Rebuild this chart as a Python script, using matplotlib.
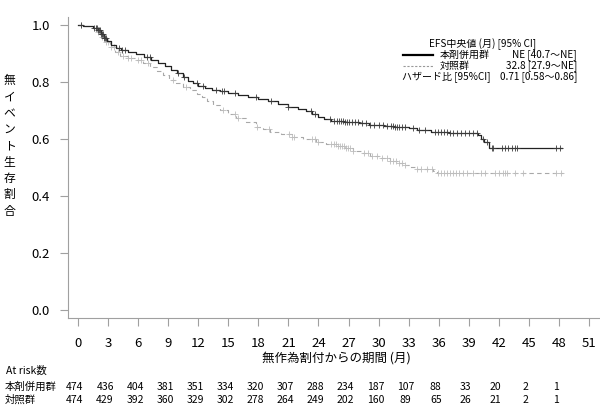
import numpy as np
import matplotlib
matplotlib.use("Agg")
import matplotlib.pyplot as plt
from matplotlib.lines import Line2D
import logging
logging.getLogger('matplotlib.font_manager').setLevel(logging.ERROR)

plt.rcParams['font.family'] = ['Noto Sans CJK JP', 'DejaVu Sans']
NARROW = ['Liberation Sans Narrow', 'Noto Sans CJK JP', 'DejaVu Sans']

# ---------------- data ----------------
# 本剤併用群 (treatment) KM steps
trt_t = [0, 0.5, 1.0, 1.5, 2.0, 2.3, 2.6, 2.9, 3.3, 3.8, 4.3, 5.0, 5.8, 6.6, 7.3, 8.0,
         8.7, 9.3, 9.9, 10.5, 11.0, 11.5, 12.0, 12.7, 13.4, 14.2, 15.0, 16.0, 17.0,
         18.0, 19.0, 20.0, 21.0, 22.0, 22.8, 23.4, 24.0, 24.6, 25.3, 26.5, 28.0, 29.0,
         30.5, 31.5, 33.0, 33.8, 35.2, 37.0, 39.9, 40.2, 40.5, 41.0, 48.3]
trt_s = [1.0, 0.998, 0.995, 0.990, 0.982, 0.970, 0.955, 0.942, 0.930, 0.920, 0.912,
         0.905, 0.897, 0.889, 0.878, 0.866, 0.855, 0.843, 0.831, 0.818, 0.805, 0.795,
         0.786, 0.779, 0.773, 0.767, 0.762, 0.755, 0.747, 0.739, 0.732, 0.722, 0.713,
         0.706, 0.698, 0.688, 0.678, 0.670, 0.664, 0.660, 0.655, 0.650, 0.647, 0.643,
         0.637, 0.632, 0.626, 0.621, 0.615, 0.600, 0.588, 0.569, 0.569]
trt_cens = [0.3, 1.6, 1.8, 1.9, 2.0, 2.1, 2.2, 2.3, 2.4, 2.5, 2.6, 2.7, 2.8, 4.1, 4.4,
            4.7, 6.9, 7.2, 10.0, 10.6, 11.9, 12.5, 13.8, 14.4, 14.6, 15.7, 17.8, 19.3,
            21.0, 23.3, 23.7, 25.2, 25.5, 25.8, 26.0, 26.2, 26.4, 26.6, 26.8, 27.0,
            27.3, 27.6, 27.9, 28.3, 28.7, 29.1, 29.5, 30.0, 30.4, 30.8, 31.2, 31.4,
            31.6, 31.8, 32.0, 32.3, 32.6, 33.4, 34.0, 34.6, 35.6, 35.9, 36.2, 36.5,
            36.8, 37.1, 37.4, 37.8, 38.2, 38.6, 39.0, 39.4, 39.8, 40.4, 40.8, 41.3,
            41.4, 42.3, 42.6, 42.9, 43.3, 43.6, 43.8, 47.7, 48.1]

# 対照群 (control) KM steps
ctl_t = [0, 0.5, 1.0, 1.5, 2.0, 2.4, 2.8, 3.2, 3.7, 4.2, 5.0, 5.8, 6.5, 7.2, 7.9, 8.5,
         9.1, 9.8, 10.5, 11.2, 11.9, 12.4, 12.9, 13.5, 14.2, 15.0, 15.8, 16.8, 17.8,
         18.5, 19.2, 20.3, 21.4, 22.5, 23.8, 24.8, 25.8, 26.6, 27.4, 28.3, 29.1, 30.1,
         31.1, 31.8, 32.4, 33.1, 33.8, 35.4, 35.8, 48.4]
ctl_s = [1.0, 0.998, 0.995, 0.988, 0.975, 0.958, 0.940, 0.922, 0.905, 0.892, 0.884,
         0.876, 0.865, 0.853, 0.840, 0.823, 0.806, 0.795, 0.783, 0.771, 0.759, 0.746,
         0.734, 0.718, 0.700, 0.688, 0.675, 0.659, 0.643, 0.634, 0.626, 0.617, 0.608,
         0.600, 0.591, 0.584, 0.577, 0.568, 0.559, 0.551, 0.542, 0.533, 0.524, 0.515,
         0.507, 0.500, 0.493, 0.489, 0.479, 0.479]
ctl_cens = [0.3, 1.8, 2.0, 2.2, 2.4, 2.6, 2.8, 3.0, 3.3, 3.6, 4.0, 4.5, 5.0, 5.3, 6.0,
            6.3, 7.0, 9.5, 10.8, 14.5, 15.7, 16.0, 17.9, 19.1, 21.1, 21.4, 21.6, 23.4,
            23.7, 24.0, 25.3, 25.5, 25.7, 25.9, 26.1, 26.3, 26.5, 26.7, 26.9, 27.1,
            27.4, 28.5, 28.9, 29.3, 29.8, 30.3, 30.8, 31.1, 31.4, 31.7, 32.0, 32.3,
            32.6, 33.8, 34.2, 34.8, 35.3, 35.9, 36.2, 36.5, 36.8, 37.1, 37.4, 37.7,
            38.0, 38.4, 38.8, 39.4, 40.2, 40.6, 41.6, 42.0, 42.4, 42.6, 42.8, 43.6,
            44.4, 47.7, 48.2]

x_ticks = list(range(0, 52, 3))
risk_times = list(range(0, 49, 3))
risk_trt = [474, 436, 404, 381, 351, 334, 320, 307, 288, 234, 187, 107, 88, 33, 20, 2, 1]
risk_ctl = [474, 429, 392, 360, 329, 302, 278, 264, 249, 202, 160, 89, 65, 26, 21, 2, 1]

group_names = ["本剤併用群", "対照群"]
median_text = ["NE [40.7～NE]", "32.8 [27.9～NE]"]
legend_title = "EFS中央値 (月) [95% CI]"
hr_label = "ハザード比 [95%CI]"
hr_text = "0.71 [0.58～0.86]"

# ---------------- figure ----------------
W, H = 600, 412
fig = plt.figure(figsize=(W / 100, H / 100), dpi=100)
ax = fig.add_axes([68 / W, 1 - 318 / H, (599 - 68) / W, (318 - 16.7) / H])

def surv_at(times, surv, t):
    idx = np.searchsorted(times, t, side='right') - 1
    return np.asarray(surv)[idx]

trt_col = '#222222'
ctl_col = '#a8a8a8'
ctl_mark = '#bdbdbd'

ax.plot(ctl_t, ctl_s, drawstyle='steps-post', color=ctl_col, lw=0.8,
        linestyle=(0, (4, 3)))
ax.plot(ctl_cens, surv_at(ctl_t, ctl_s, ctl_cens), linestyle='none', marker='+',
        ms=5, mew=0.6, color=ctl_mark)
ax.plot(trt_t, trt_s, drawstyle='steps-post', color=trt_col, lw=0.9)
ax.plot(trt_cens, surv_at(trt_t, trt_s, trt_cens), linestyle='none', marker='+',
        ms=5, mew=0.6, color='#3a3a3a')

ax.set_xlim(-1, 52)
ax.set_ylim(-0.028, 1.029)
ax.set_xticks(x_ticks)
ax.set_yticks([0.0, 0.2, 0.4, 0.6, 0.8, 1.0])
ax.set_yticklabels([f"{v:.1f}" for v in [0.0, 0.2, 0.4, 0.6, 0.8, 1.0]])
for s in ['top', 'right']:
    ax.spines[s].set_visible(False)
for s in ['left', 'bottom']:
    ax.spines[s].set_color('#a0a0a0')
    ax.spines[s].set_linewidth(0.8)
ax.tick_params(axis='both', colors='#a0a0a0', labelcolor='black', length=6,
               width=0.8, labelsize=9.5)
ax.tick_params(axis='y', pad=7)
ax.tick_params(axis='x', pad=8)

# y-label stacked vertically
ylab = "無イベント生存割合"
fig.text(9.5 / W, 1 - 146 / H, "\n".join(ylab), ha='center', va='center',
         fontsize=8.5, linespacing=1.33)

# x-label
fig.text(336 / W, 1 - 358 / H, "無作為割付からの期間 (月)", ha='center', va='center',
         fontsize=9)

# at risk table
fs_r = 7.5
fig.text(6 / W, 1 - 371 / H, "At risk数", ha='left', va='center', fontsize=fs_r,
         family=NARROW)
for row_y, name, vals in [(386.5, group_names[0], risk_trt), (400, group_names[1], risk_ctl)]:
    fig.text(5 / W, 1 - row_y / H, name, ha='left', va='center', fontsize=fs_r,
             family=NARROW)
    for t, v in zip(risk_times, vals):
        xpix = ax.transData.transform((t, 0))[0] - 3
        fig.text(xpix / W, 1 - row_y / H, str(v), ha='center', va='center',
                 fontsize=fs_r, family=NARROW)

# legend block
fs = 7.2
fig.text(483 / W, 1 - 44 / H, legend_title, ha='center', va='center', fontsize=fs,
         family=NARROW)
fig.add_artist(Line2D([403 / W, 433 / W], [1 - 55 / H, 1 - 55 / H], color='black', lw=1.6))
fig.add_artist(Line2D([403 / W, 433 / W], [1 - 66 / H, 1 - 66 / H], color='#999999', lw=0.8,
                      linestyle=(0, (2, 1.5))))
fig.text(440 / W, 1 - 55 / H, group_names[0], ha='left', va='center', fontsize=fs,
         family=NARROW)
fig.text(440 / W, 1 - 66 / H, group_names[1], ha='left', va='center', fontsize=fs,
         family=NARROW)
fig.text(577 / W, 1 - 55 / H, median_text[0], ha='right', va='center', fontsize=fs,
         family=NARROW)
fig.text(577 / W, 1 - 66 / H, median_text[1], ha='right', va='center', fontsize=fs,
         family=NARROW)
fig.text(402 / W, 1 - 77 / H, hr_label, ha='left', va='center', fontsize=fs,
         family=NARROW)
fig.text(577 / W, 1 - 77 / H, hr_text, ha='right', va='center', fontsize=fs,
         family=NARROW)

fig.savefig("out.png", dpi=100)
